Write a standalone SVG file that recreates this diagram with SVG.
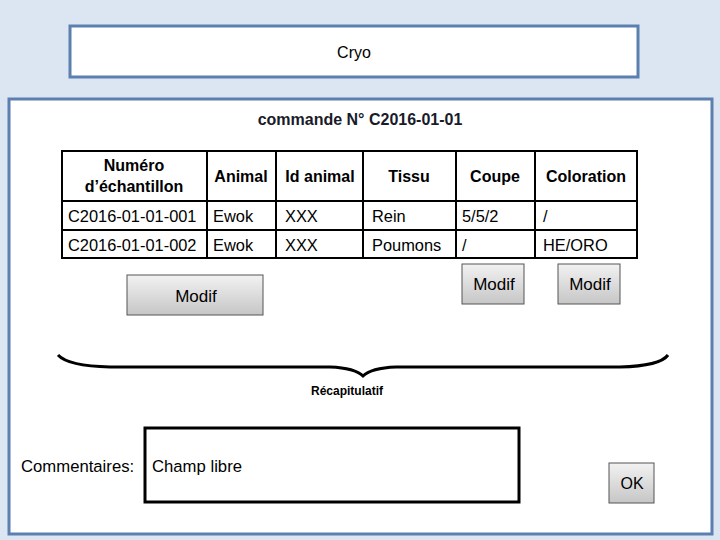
<svg xmlns="http://www.w3.org/2000/svg" width="720" height="540" viewBox="0 0 720 540">
<defs>
<linearGradient id="btn" x1="0" y1="0" x2="0" y2="1">
<stop offset="0" stop-color="#f2f2f2"/>
<stop offset="1" stop-color="#c6c6c6"/>
</linearGradient>
<style>
.t{font-family:"Liberation Sans",Arial,sans-serif;font-size:16px;fill:#000}
.d{font-size:16.4px}
.b{font-weight:bold}
.c{text-anchor:middle}
.frame{fill:#fff;stroke:#5b7fae;stroke-width:3}
.grid{fill:none;stroke:#000;stroke-width:2}
.button{fill:url(#btn);stroke:#555;stroke-width:1}
.bt{font-size:17px}
</style>
</defs>
<rect x="0" y="0" width="720" height="540" fill="#dce6f2"/>
<g id="cryo">
<rect class="frame" x="70" y="26" width="568" height="51"/>
<text class="t c" x="354" y="58">Cryo</text>
</g>
<g id="panel">
<rect class="frame" x="9" y="99" width="703" height="435"/>
<text class="t b c" x="360" y="125" style="fill:#1a1a2a">commande N° C2016-01-01</text>
</g>
<g id="table">
<rect class="grid" x="62" y="151" width="575" height="107"/>
<line class="grid" x1="62" y1="201" x2="637" y2="201"/>
<line class="grid" x1="62" y1="230" x2="637" y2="230"/>
<line class="grid" x1="207" y1="151" x2="207" y2="258"/>
<line class="grid" x1="276" y1="151" x2="276" y2="258"/>
<line class="grid" x1="363" y1="151" x2="363" y2="258"/>
<line class="grid" x1="456" y1="151" x2="456" y2="258"/>
<line class="grid" x1="535" y1="151" x2="535" y2="258"/>
<text class="t b c" x="134" y="171">Numéro</text>
<text class="t b c" x="134" y="192">d’échantillon</text>
<text class="t b c" x="241" y="182">Animal</text>
<text class="t b c" x="320" y="182">Id animal</text>
<text class="t b c" x="409" y="182">Tissu</text>
<text class="t b c" x="495" y="182">Coupe</text>
<text class="t b c" x="586" y="182">Coloration</text>
<text class="t d" x="68" y="222">C2016-01-01-001</text>
<text class="t d" x="213" y="222">Ewok</text>
<text class="t d" x="285" y="222">XXX</text>
<text class="t d" x="372" y="222">Rein</text>
<text class="t d" x="462" y="222">5/5/2</text>
<text class="t d" x="543" y="222">/</text>
<text class="t d" x="68" y="251">C2016-01-01-002</text>
<text class="t d" x="213" y="251">Ewok</text>
<text class="t d" x="285" y="251">XXX</text>
<text class="t d" x="372" y="251">Poumons</text>
<text class="t d" x="462" y="251">/</text>
<text class="t d" x="543" y="251">HE/ORO</text>
</g>
<g id="modif-coupe">
<rect class="button" x="462" y="264" width="62" height="40"/>
<text class="t bt c" x="494" y="290">Modif</text>
</g>
<g id="modif-coloration">
<rect class="button" x="558" y="264" width="62" height="40"/>
<text class="t bt c" x="590" y="290">Modif</text>
</g>
<g id="modif-main">
<rect class="button" x="127" y="275" width="136" height="40"/>
<text class="t bt c" x="196" y="302">Modif</text>
</g>
<g id="connectors">
<path d="M58,355 Q68,366 110,367 L330,367 Q355,368 363,376 Q371,368 396,367 L620,367 Q660,366 668,355" fill="none" stroke="#000" stroke-width="3"/>
</g>
<g id="recap">
<text class="t b c" x="347" y="395" style="font-size:12px">Récapitulatif</text>
</g>
<g id="comments">
<text class="t" x="21" y="472" style="font-size:16.7px">Commentaires:</text>
<rect x="145" y="428" width="374" height="74" fill="#fff" stroke="#000" stroke-width="3"/>
<text class="t" x="152" y="472" style="font-size:16.7px">Champ libre</text>
</g>
<g id="ok">
<rect class="button" x="609" y="463" width="45" height="40"/>
<text class="t c" x="632" y="489">OK</text>
</g>
</svg>
